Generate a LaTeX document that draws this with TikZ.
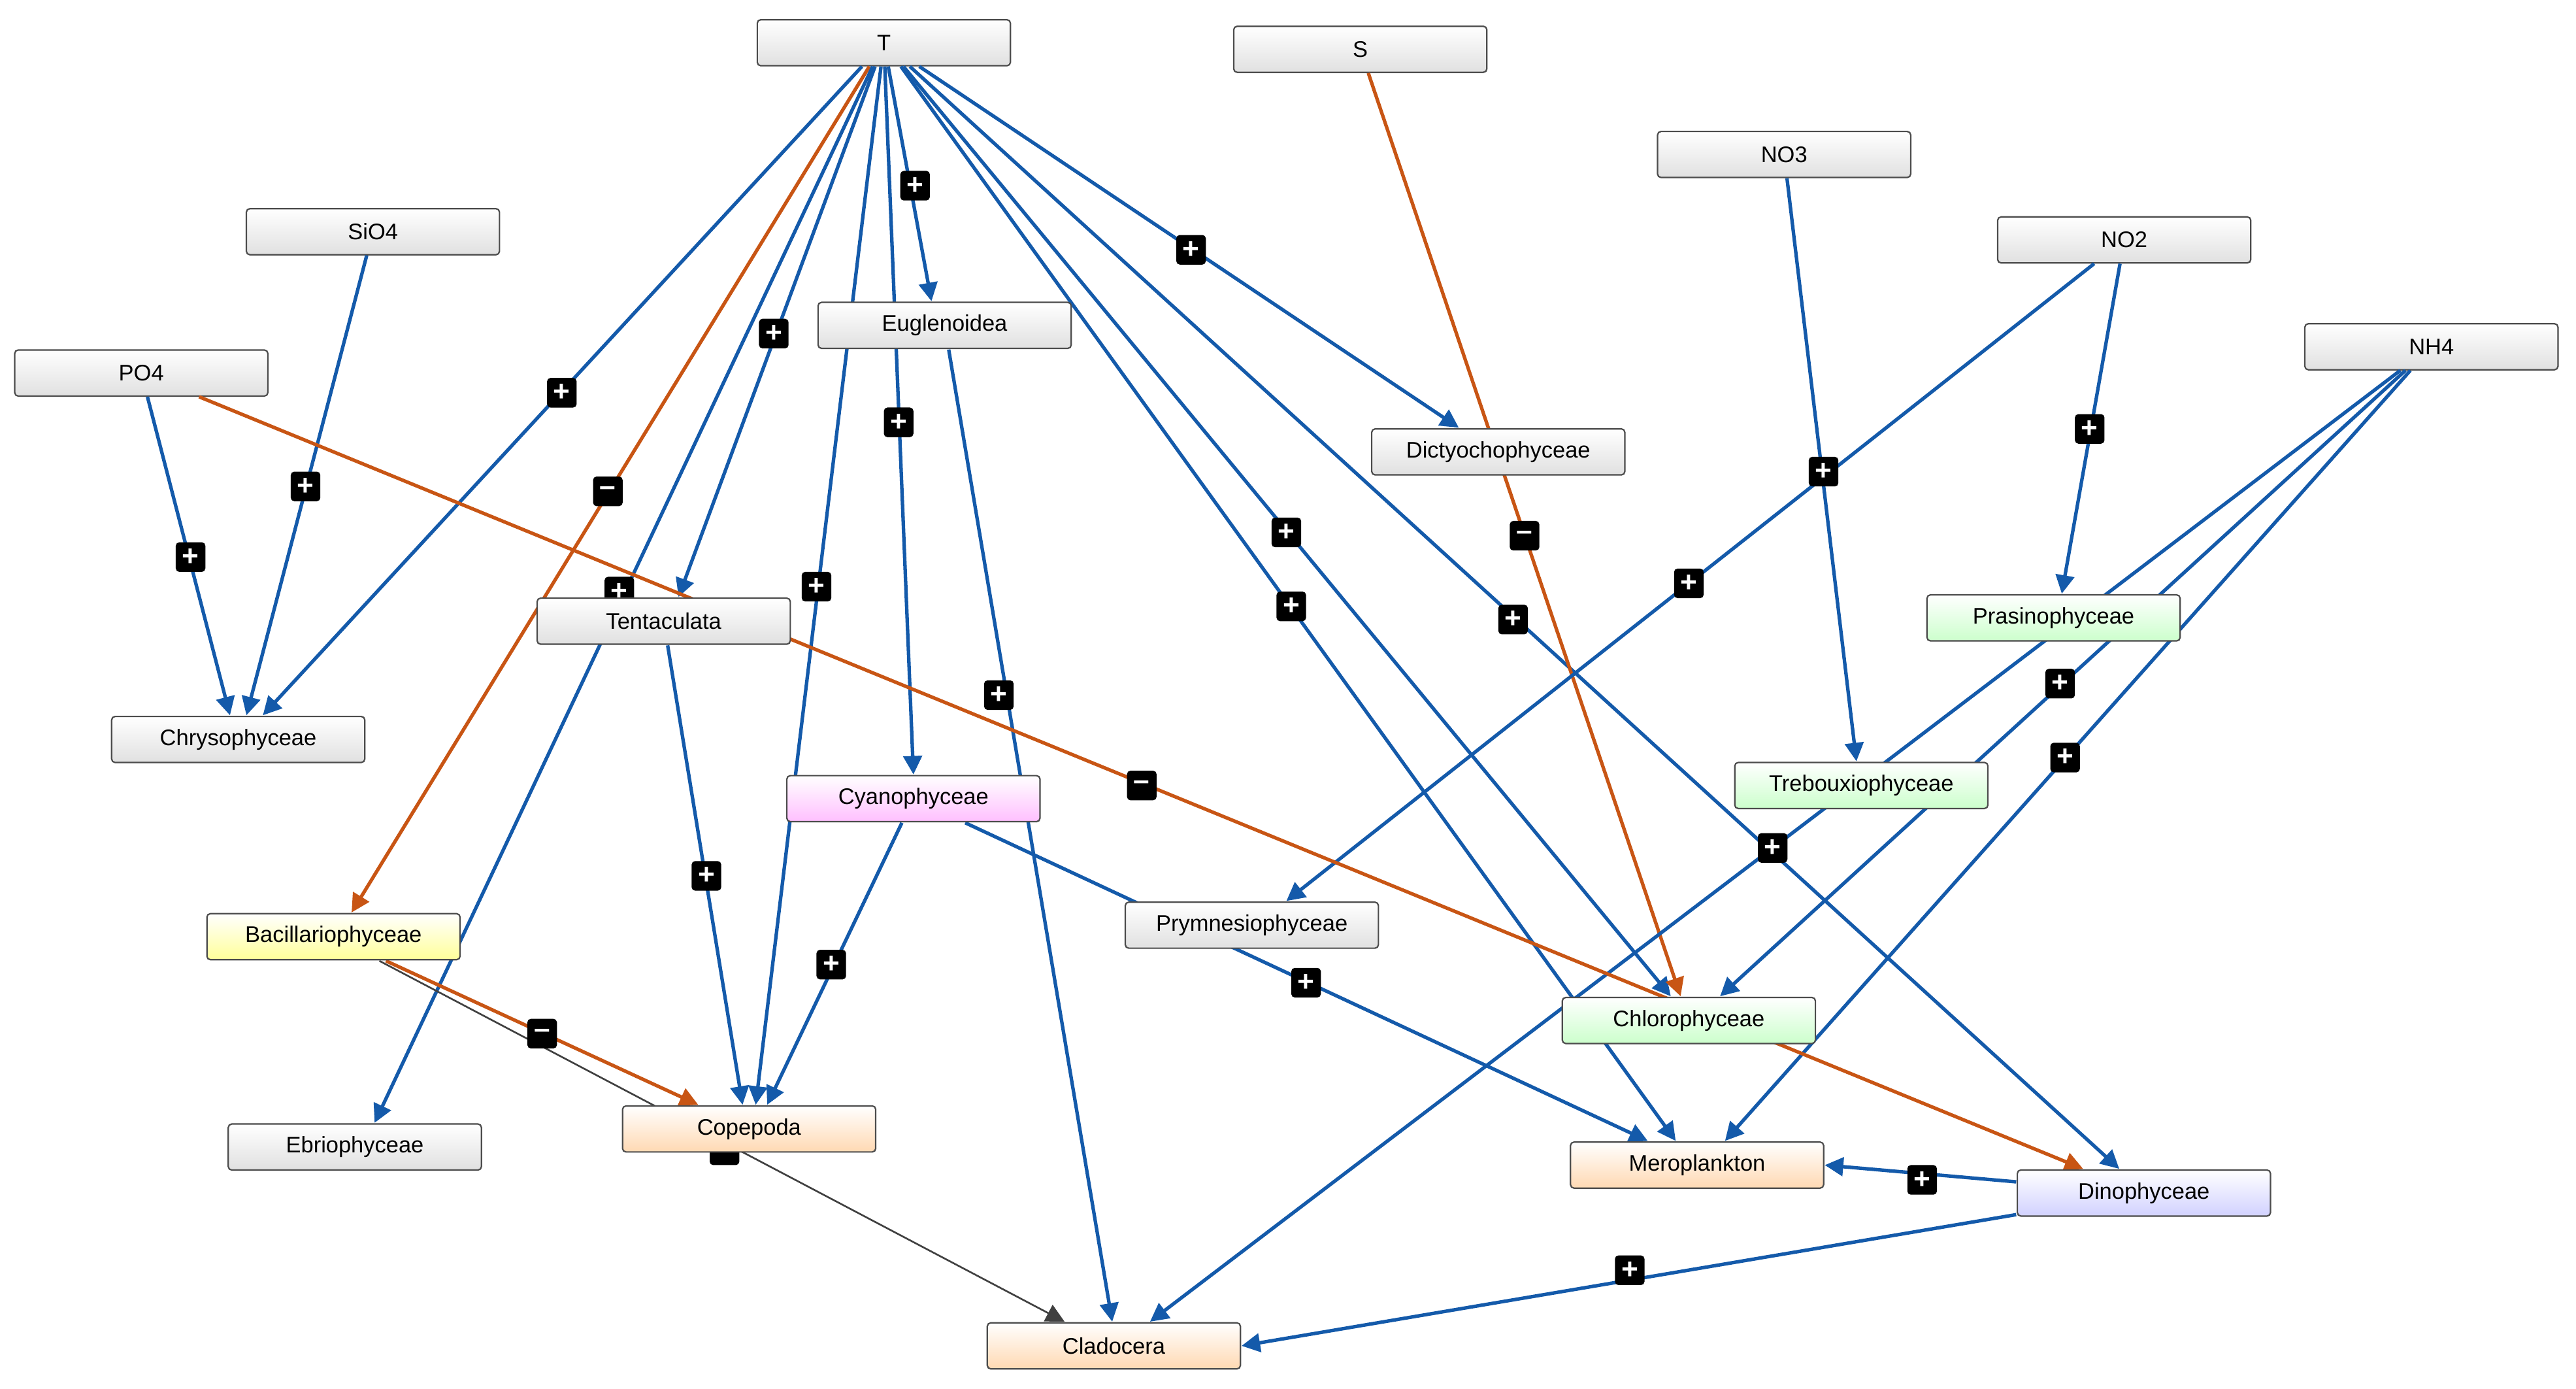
\documentclass[tikz,border=0pt]{standalone}
\usepackage{fontspec}
\setmainfont{Liberation Sans}
\usetikzlibrary{arrows.meta,calc}
\begin{document}
\begin{tikzpicture}[x=0.01cm,y=-0.01cm,
 box/.style={draw=black!70,rounded corners=0.6pt,line width=0.25pt,minimum width=1.54cm,minimum height=0.28cm,inner sep=0pt,font=\fontsize{3.9}{4}\selectfont,top color=white,bottom color=#1},
 box/.default={black!12},
 sg/.style={fill=black,rounded corners=0.6pt,minimum size=0.18cm,inner sep=0pt,text=white,font=\fontsize{5}{5}\selectfont\bfseries},
 b/.style={draw={rgb,255:red,20;green,90;blue,170},line width=0.6pt,-{Triangle[length=3.2pt,width=3.2pt]}},
 o/.style={draw={rgb,255:red,200;green,85;blue,20},line width=0.6pt,-{Triangle[length=3.2pt,width=3.2pt]}},
 g/.style={draw=black!75,line width=0.3pt,-{Triangle[length=3.2pt,width=3.2pt]}}]
\useasboundingbox (0,0) rectangle (1568,845);
\node[box] (T) at (538,26) {T};
\node[box] (S) at (828,30) {S};
\node[box] (NO3) at (1086,94) {NO3};
\node[box] (NO2) at (1293,146) {NO2};
\node[box] (NH4) at (1480,211) {NH4};
\node[box] (SiO4) at (227,141) {SiO4};
\node[box] (PO4) at (86,227) {PO4};
\path (575,198) coordinate (pEug) (912,275) coordinate (pDic) (1250,376) coordinate (pPra)
 (404,378) coordinate (pTen) (145,450) coordinate (pChr) (1133,478) coordinate (pTre)
 (556,486) coordinate (pCya) (762,563) coordinate (pPry) (203,570) coordinate (pBac)
 (1028,621) coordinate (pChl) (216,698) coordinate (pEbr) (456,687) coordinate (pCop)
 (1033,709) coordinate (pMer) (1305,726) coordinate (pDin) (678,819) coordinate (pCla);
\foreach \n/\p in {Eug0/pEug,Dic0/pDic,Pra0/pPra,Ten0/pTen,Chr0/pChr,Tre0/pTre,Cya0/pCya,Pry0/pPry,Bac0/pBac,Chl0/pChl,Ebr0/pEbr,Cop0/pCop,Mer0/pMer,Din0/pDin,Cla0/pCla}
  \node[minimum width=1.54cm,minimum height=0.28cm,inner sep=0pt] (\n) at (\p) {};
\draw[b] (T) -- ($(Chr0.north)+(15,0)$);
\draw[o] (T) -- ($(Bac0.north)+(11,0)$);
\draw[b] (T) -- ($(Ten0.north)+(9,0)$);
\draw[b] (T) -- ($(Ebr0.north)+(12,0)$);
\draw[b] (T) -- ($(Cop0.north)+(4,0)$);
\draw[b] (T) -- ($(Eug0.north)+(-8,0)$);
\draw[b] (T) -- (Cya0.north);
\draw[b] (T) -- ($(Dic0.north)+(-24,0)$);
\draw[b] (T) -- ($(Chl0.north)+(-11,0)$);
\draw[b] (T) -- ($(Mer0.north)+(-13,0)$);
\draw[b] (T) -- ($(Din0.north)+(-15,0)$);
\draw[b] (Eug0) -- ($(Cla0.north)+(-1,0)$);
\draw[o] (S) -- ($(Chl0.north)+(-5,0)$);
\draw[b] (NO3) -- ($(Tre0.north)+(-3,0)$);
\draw[b] (NO2) -- ($(Pry0.north)+(21,0)$);
\draw[b] (NO2) -- ($(Pra0.north)+(5,0)$);
\draw[b] (NH4) -- ($(Chl0.north)+(19,0)$);
\draw[b] (NH4) -- ($(Mer0.north)+(17,0)$);
\draw[b] (NH4) -- ($(Cla0.north)+(22,0)$);
\draw[b] (PO4) -- ($(Chr0.north)+(-5,0)$);
\draw[b] (SiO4) -- ($(Chr0.north)+(5,0)$);
\draw[o] (PO4) -- ($(Din0.north)+(-37,0)$);
\draw[b] (Ten0) -- ($(Cop0.north)+(-4,0)$);
\draw[b] (Cya0) -- ($(Cop0.north)+(11,0)$);
\draw[b] (Cya0) -- ($(Mer0.north)+(-30,0)$);
\draw[o] (Bac0) -- ($(Cop0.north)+(-31,0)$);
\draw[g] (Bac0) -- ($(Cla0.north)+(-30,0)$);
\draw[b] (Din0) -- (Mer0.east);
\draw[b] (Din0) -- (Cla0.east);
\node[box] (Eug) at (pEug) {Euglenoidea};
\node[box] (Dic) at (pDic) {Dictyochophyceae};
\node[box={green!20}] (Pra) at (pPra) {Prasinophyceae};
\node[sg] at (377,360) {+};
\node[box] (Ten) at (pTen) {Tentaculata};
\node[box] (Chr) at (pChr) {Chrysophyceae};
\node[box={green!20}] (Tre) at (pTre) {Trebouxiophyceae};
\node[box={magenta!25}] (Cya) at (pCya) {Cyanophyceae};
\node[box] (Pry) at (pPry) {Prymnesiophyceae};
\node[box={yellow!40}] (Bac) at (pBac) {Bacillariophyceae};
\node[box={green!20}] (Chl) at (pChl) {Chlorophyceae};
\node[box] (Ebr) at (pEbr) {Ebriophyceae};
\node[sg] at (441,700) {--};
\node[box={orange!30}] (Cop) at (pCop) {Copepoda};
\node[box={orange!30}] (Mer) at (pMer) {Meroplankton};
\node[box={blue!18}] (Din) at (pDin) {Dinophyceae};
\node[box={orange!30}] (Cla) at (pCla) {Cladocera};
\foreach \x/\y in {342/239,471/203,497/357,557/113,547/257,725/152,783/324,786/369,921/377,608/423,1110/287,1028/355,1272/261,1254/416,1257/461,1079/516,116/339,186/296,430/533,506/587,795/598,1170/718,992/773}
  \node[sg] at (\x,\y) {+};
\foreach \x/\y in {370/299,928/326,695/478,330/629}
  \node[sg] at (\x,\y) {--};
\end{tikzpicture}
\end{document}
